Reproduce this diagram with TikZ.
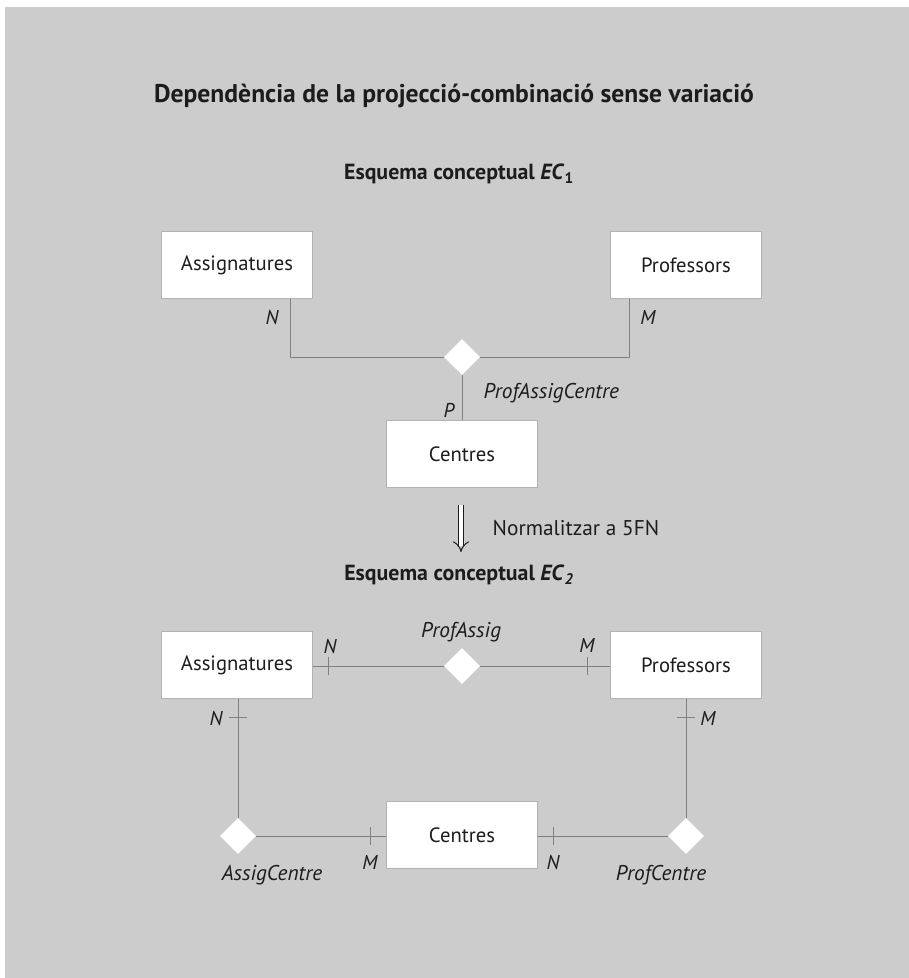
\documentclass[tikz,border=0pt]{standalone}
\usepackage{fontspec}
\setmainfont{PT Sans}
\usepackage{tikz}
\usetikzlibrary{shapes.geometric,arrows.meta,positioning,calc}
\definecolor{panelgray}{RGB}{204,204,204}
\definecolor{linegray}{RGB}{128,128,128}
\definecolor{inkcolor}{RGB}{28,28,28}

\begin{document}
\begin{tikzpicture}[x=0.75pt, y=-0.75pt,
    entity/.style={rectangle, draw=black!30, line width=0.4pt, fill=white, minimum width=113pt, minimum height=50pt, font=\fontsize{15.5}{18}\selectfont, text=inkcolor},
    relation/.style={diamond, fill=white, minimum width=27pt, minimum height=27pt, inner sep=0pt},
    link/.style={draw=linegray, line width=0.75pt},
    tick/.style={draw=linegray, line width=0.6pt},
    card/.style={font=\itshape\fontsize{15}{17}\selectfont, text=inkcolor, inner sep=1pt},
    rolename/.style={font=\itshape\fontsize{16}{18}\selectfont, text=inkcolor, inner sep=1pt},
    heading/.style={font=\bfseries\fontsize{16.4}{19}\selectfont, text=inkcolor},
]
    % Panel
    \useasboundingbox (0,0) rectangle (909,978);
    \fill[panelgray] (5,7) rectangle (909,978);

    % Titles
    \node[heading, font=\bfseries\fontsize{19.2}{22}\selectfont] (title) at (454,96) {Dependència de la projecció-combinació sense variació};
    \node[heading] (ec1) at (459,174) {Esquema conceptual \textit{EC}\textsubscript{1}};

    % Conceptual schema EC1
    \node[entity] (assig) at (237,265) {Assignatures};
    \node[entity] (prof) at (686,265) {Professors};
    \node[relation] (pac) at (462,357) {};
    \node[entity] (centres) at (462,454) {Centres};

    \draw[link] ($(assig.south)+(53,0)$) |- (pac.west);
    \draw[link] ($(prof.south)+(-57,0)$) |- (pac.east);
    \draw[link] (pac.south) -- (centres.north);

    \node[card] (n1) at (272,317) {N};
    \node[card] (m1) at (648,317) {M};
    \node[card] (p1) at (449,410) {P};
    \node[rolename, anchor=west] (pacname) at (482,393) {ProfAssigCentre};

    % Normalization step
    \coordinate (normtop) at (461,505);
    \coordinate (normbot) at (461,552);
    \draw[-{Implies}, double, double distance=3.5pt, line width=0.75pt, draw=inkcolor] (normtop) -- (normbot);
    \node[anchor=west, font=\fontsize{16}{18}\selectfont, text=inkcolor] (norm) at (488,528) {Normalitzar a 5FN};

    \node[heading] (ec2) at (459,575) {Esquema conceptual \textit{EC}\textsubscript{\textit{2}}};

    % Conceptual schema EC2
    \node[entity] (assig2) at (237,665) {Assignatures};
    \node[entity] (prof2) at (686,665) {Professors};
    \node[entity] (centres2) at (462,835) {Centres};
    \node[relation] (pa) at (462,666) {};
    \node[relation] (ac) at (238,836) {};
    \node[relation] (pc) at (686,836) {};

    \draw[link] (assig2.east |- pa.west) -- (pa.west);
    \draw[link] (pa.east) -- (prof2.west |- pa.east);
    \draw[link] (ac.north |- assig2.south) -- (ac.north);
    \draw[link] (pc.north |- prof2.south) -- (pc.north);
    \draw[link] (ac.east) -- (centres2.west |- ac.east);
    \draw[link] (centres2.east |- pc.west) -- (pc.west);

    \draw[tick] (328,657) -- (328,675);
    \draw[tick] (587,657) -- (587,675);
    \draw[tick] (229,717) -- (247,717);
    \draw[tick] (677,717) -- (695,717);
    \draw[tick] (370,827) -- (370,845);
    \draw[tick] (553,827) -- (553,845);

    \node[card] (n2) at (330,646) {N};
    \node[card] (m2) at (587,645) {M};
    \node[rolename] (paname) at (461,632) {ProfAssig};
    \node[card] (n3) at (216,718) {N};
    \node[card] (m3) at (708,718) {M};
    \node[card] (m4) at (370,862) {M};
    \node[card] (n4) at (553,862) {N};
    \node[rolename] (acname) at (272,875) {AssigCentre};
    \node[rolename] (pcname) at (661,875) {ProfCentre};
\end{tikzpicture}
\end{document}
